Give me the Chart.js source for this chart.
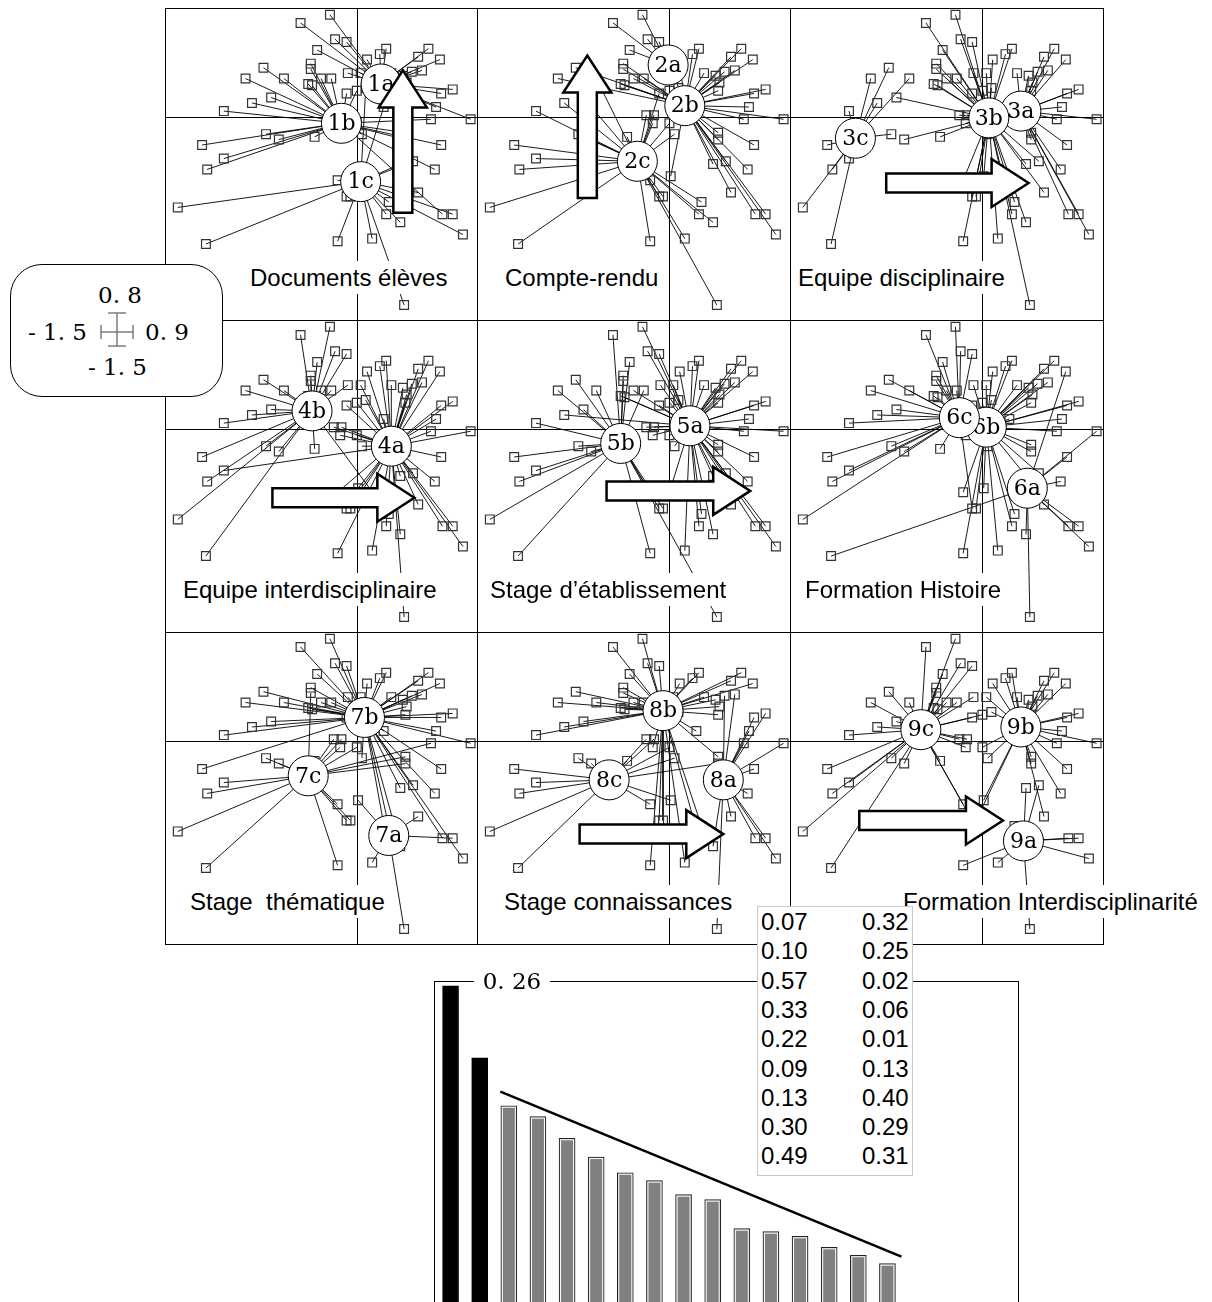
<!DOCTYPE html>
<html>
<head>
<meta charset="utf-8">
<script src="https://cdn.jsdelivr.net/npm/chart.js@4.4.1/dist/chart.umd.min.js"></script>
<style>
  html, body { margin: 0; padding: 0; background: #fff; }
  #page { position: relative; width: 1212px; height: 1302px; overflow: hidden; background: #fff; }
  #page canvas { position: absolute; }
  .hl { position: absolute; background: #000; height: 1px; z-index: 2; }
  .vl { position: absolute; background: #000; width: 1px; z-index: 2; }
  .title { position: absolute; z-index: 3; background: #fff; font: 24px 'Liberation Sans', Arial, sans-serif;
           line-height: 33px; padding: 0 2px; white-space: pre; color: #000; }
  .serif { position: absolute; font: 23px 'DejaVu Serif', serif; line-height: 23px; color: #000; white-space: pre; }
  #legendBox { position: absolute; left: 10px; top: 264px; width: 211px; height: 131px; border: 1px solid #000;
               border-radius: 32px; background: #fff; z-index: 4; }
  #barBox { position: absolute; left: 434px; top: 981px; width: 583px; height: 400px; border: 1px solid #000;
            border-bottom: none; z-index: 0; }
  #table { position: absolute; left: 757px; top: 906px; width: 154px; height: 268px; border: 1px solid #c8c8c8;
           background: #fff; z-index: 5; }
  .cell { position: absolute; font: 24px 'Liberation Sans', Arial, sans-serif; line-height: 28px; color: #000; }
</style>
</head>
<body>
<div id="page"></div>
<script>
// ---- individuals (same cloud in every panel) ----
const indivX = [-0.21, -0.44, -0.17, -0.08, -0.31, 0.23, 0.18, 0.56, 0.48, 0.65,
                0.08, -0.36, -0.36, -0.73, -0.07, 0.03, 0.27, 0.51, 0.43, 0.36,
                -0.87, -0.57, -0.20, -0.28, -0.38, -0.35, 0.07, 0.39, 0.38, 0.75,
                0.66, -0.08, 0.00, -0.67, -0.82, -1.04, 0.62, 0.58, 0.89, -0.18,
                -0.12, -0.13, 0.21, 0.00, -0.71, -0.61, -0.33, 0.04, 0.38, 0.38,
                -1.21, 0.66, -1.04, -1.17, 0.61, 0.34, 0.44, -0.15, 0.01, -0.08,
                -0.05, 0.48, 0.25, -1.40, 0.67, 0.75, 0.23, 0.34, 0.83, -1.18,
                -0.15, 0.12, 0.37];
const indivY = [0.75, 0.69, 0.57, 0.55, 0.49, 0.50, 0.46, 0.50, 0.44, 0.42,
                0.42, 0.39, 0.35, 0.36, 0.32, 0.32, 0.32, 0.34, 0.33, 0.30,
                0.28, 0.28, 0.28, 0.28, 0.24, 0.23, 0.21, 0.25, 0.19, 0.20,
                0.17, 0.17, 0.19, 0.14, 0.10, 0.04, 0.07, -0.02, -0.02, 0.01,
                0.01, -0.05, 0.07, -0.05, -0.13, -0.17, -0.15, -0.13, -0.12, -0.17,
                -0.21, -0.21, -0.31, -0.39, -0.39, -0.35, -0.33, -0.47, -0.44, -0.59,
                -0.59, -0.56, -0.63, -0.67, -0.72, -0.72, -0.72, -0.78, -0.87, -0.94,
                -0.92, -0.90, -1.39];

// ---- panels ----
const panelTitles = ['Documents élèves', 'Compte-rendu', 'Equipe disciplinaire',
                     'Equipe interdisciplinaire', 'Stage d\u2019établissement', 'Formation Histoire',
                     'Stage  thématique', 'Stage connaissances', 'Formation Interdisciplinarité'];
const titleLeft = [85, 28, 8, 18, 13, 15, 25, 27, 113];

// category (a/b/c) of each individual, per panel
const panelGroups = [
  'aaaaaaaaaa abbbaaaaaa bbbbbbcaaa abbbbbabab bbcbbbbbbb bbbbbccccc ccccbccccc ccc',
  'aaaaabbbbb bbbbabbbbb bcbbbbbbbb bcbcccbbbc ccbcccccbb cbccbbbcbc cbccbbccbc ccc',
  'bbbbbbbaaa bbbcbbaaaa ccbbbbbaaa abbbccaaab bbabcbbbaa caccabbbbb bbbcaabbac bbb',
  'bbbbbaaaaa abbbbaaaaa bbbbbbaaaa aaabbbaaaa aaaabbbaaa baabaaaaaa aabbaaaaab aaa',
  'abaabaaaaa abbbaaaaaa bbbaaaaaaa aaababaaaa aaaabbbaaa babbaaabab baabaaaaab bab',
  'cccccbbbba bcccbbbbbb ccccccbbbb bbbcccbbac ccbbcccbbb caccabbbbc babcaabaaa bba',
  'bbbbbbbbbb bbcbbbbbbb bbbbbbbbbb bbbbbbbcbc ccbccccbcc bbccbbbcac cabcbabbbc caa',
  'bbbbbbbbbb bbbbbbbaab bbbbbbbbba abbbbbaaac cbbcccccbc caccaaaccb babcaabaac bba',
  'cccccbbbbb bccccbbbbb ccccccbbbb bcccccbbbc ccbbcccbbb cbccbaacbc bbacaaaaac aaa'
];
const centX = [[0.19, -0.12, 0.03], [-0.01, 0.12, -0.25], [0.30, 0.05, -0.99],
               [0.27, -0.35], [0.16, -0.38], [0.35, 0.03, -0.18],
               [0.25, 0.06, -0.38], [0.42, -0.05, -0.47], [0.32, 0.30, -0.48]];
const centY = [[0.24, -0.05, -0.48], [0.38, 0.08, -0.33], [0.04, -0.01, -0.16],
               [-0.13, 0.13], [0.02, -0.11], [-0.44, 0.01, 0.08],
               [-0.70, 0.17, -0.26], [-0.29, 0.22, -0.29], [-0.74, 0.10, 0.08]];
// arrows: [tailX, tailY, tipX, tipY] or null
const panelArrows = [[0.36, -0.71, 0.36, 0.34], [-0.64, -0.60, -0.64, 0.45], [-0.75, -0.49, 0.36, -0.49],
                     [-0.66, -0.51, 0.45, -0.51], [-0.49, -0.46, 0.63, -0.46], null,
                     null, [-0.70, -0.69, 0.42, -0.69], [-0.96, -0.59, 0.16, -0.59]];

// ---- eigenvalue chart + table ----
const eigenValues = [0.257, 0.2135, 0.1844, 0.1778, 0.1647, 0.1533, 0.1438, 0.139,
                     0.1305, 0.1275, 0.1099, 0.1081, 0.1053, 0.0986, 0.0938, 0.0887];
const trendX = [1.71, 15.48];
const trendY = [0.193, 0.093];
const tableLeft = ['0.07', '0.10', '0.57', '0.33', '0.22', '0.09', '0.13', '0.30', '0.49'];
const tableRight = ['0.32', '0.25', '0.02', '0.06', '0.01', '0.13', '0.40', '0.29', '0.31'];

const page = document.getElementById('page');
const xs = [165, 477, 790, 1103];
const ys = [8, 320, 632, 944];

function addDiv(cls, style, text) {
  const d = document.createElement('div');
  d.className = cls;
  Object.assign(d.style, style);
  if (text !== undefined) d.textContent = text;
  page.appendChild(d);
  return d;
}

const crosshair = {
  id: 'crosshair',
  beforeDatasetsDraw(chart) {
    const { ctx, chartArea: a, scales } = chart;
    const x0 = Math.round(scales.x.getPixelForValue(0)) + 0.5;
    const y0 = Math.round(scales.y.getPixelForValue(0)) + 0.5;
    ctx.save();
    ctx.strokeStyle = '#000';
    ctx.lineWidth = 1;
    ctx.beginPath();
    ctx.moveTo(a.left, y0); ctx.lineTo(a.right, y0);
    ctx.moveTo(x0, a.top); ctx.lineTo(x0, a.bottom);
    ctx.stroke();
    ctx.restore();
  }
};

const circleLabels = {
  id: 'circleLabels',
  afterDatasetDraw(chart, args) {
    const ds = chart.data.datasets[args.index];
    if (!ds.circleLabel) return;
    const el = args.meta.data[0];
    const ctx = chart.ctx;
    ctx.save();
    ctx.fillStyle = '#000';
    ctx.font = "22px 'DejaVu Serif', serif";
    ctx.textAlign = 'center';
    ctx.textBaseline = 'middle';
    ctx.fillText(ds.label, el.x, el.y + 1);
    ctx.restore();
  }
};

const arrowPlugin = {
  id: 'arrow',
  afterDatasetsDraw(chart, args, opts) {
    const a = opts.coords;
    if (!a) return;
    const { ctx, scales } = chart;
    const tx = scales.x.getPixelForValue(a[0]), ty = scales.y.getPixelForValue(a[1]);
    const hx = scales.x.getPixelForValue(a[2]), hy = scales.y.getPixelForValue(a[3]);
    const len = Math.hypot(hx - tx, hy - ty);
    const ux = (hx - tx) / len, uy = (hy - ty) / len;
    const px = -uy, py = ux;
    const sw = 9.5, hw = 24, hl = 37;
    const bx = hx - ux * hl, by = hy - uy * hl;
    ctx.save();
    ctx.beginPath();
    ctx.moveTo(tx + px * sw, ty + py * sw);
    ctx.lineTo(bx + px * sw, by + py * sw);
    ctx.lineTo(bx + px * hw, by + py * hw);
    ctx.lineTo(hx, hy);
    ctx.lineTo(bx - px * hw, by - py * hw);
    ctx.lineTo(bx - px * sw, by - py * sw);
    ctx.lineTo(tx - px * sw, ty - py * sw);
    ctx.closePath();
    ctx.fillStyle = '#fff';
    ctx.fill();
    ctx.lineWidth = 2.5;
    ctx.lineJoin = 'miter';
    ctx.strokeStyle = '#000';
    ctx.stroke();
    ctx.restore();
  }
};

function buildPanel(i) {
  const col = i % 3, row = Math.floor(i / 3);
  const w = xs[col + 1] - xs[col], h = ys[row + 1] - ys[row];
  const cv = document.createElement('canvas');
  cv.width = w; cv.height = h;
  Object.assign(cv.style, { left: xs[col] + 'px', top: ys[row] + 'px', width: w + 'px', height: h + 'px', zIndex: 1 });
  page.appendChild(cv);

  const groups = panelGroups[i].replace(/ /g, '');
  const letters = ['a', 'b', 'c'].slice(0, centX[i].length);
  const datasets = [];
  letters.forEach((L, k) => {
    const star = [];
    for (let j = 0; j < indivX.length; j++) {
      if (groups[j] !== L) continue;
      star.push({ x: centX[i][k], y: centY[i][k] }, { x: indivX[j], y: indivY[j] }, { x: indivX[j], y: null });
    }
    datasets.push({ data: star, showLine: true, spanGaps: false, borderColor: '#000', borderWidth: 0.9,
                    pointRadius: 0, order: 10, clip: false });
  });
  datasets.push({ data: indivX.map((x, j) => ({ x, y: indivY[j] })), pointStyle: 'rect', pointRadius: 6.2,
                  borderColor: '#333', borderWidth: 1.2, backgroundColor: 'rgba(0,0,0,0)', order: 5, clip: false });
  letters.forEach((L, k) => datasets.push({
    label: (i + 1) + L, circleLabel: true,
    data: [{ x: centX[i][k], y: centY[i][k] }],
    pointRadius: 20, borderColor: '#000', borderWidth: 1, backgroundColor: '#fff', order: 3 - k, clip: false
  }));

  new Chart(cv, {
    type: 'scatter',
    data: { datasets },
    options: {
      responsive: false, animation: false, maintainAspectRatio: false,
      layout: { padding: 0, autoPadding: false },
      events: [],
      plugins: { legend: { display: false }, tooltip: { enabled: false }, arrow: { coords: panelArrows[i] } },
      scales: {
        x: { type: 'linear', min: -1.5, max: 0.94, display: false },
        y: { type: 'linear', min: -1.5, max: 0.8, display: false }
      }
    },
    plugins: [crosshair, circleLabels, arrowPlugin]
  });

  addDiv('title', { left: (xs[col] + titleLeft[i] - 2) + 'px', top: (ys[row] + 269 - 16.5) + 'px' }, panelTitles[i]);
}

for (let i = 0; i < 9; i++) buildPanel(i);

// panel frame lines
xs.forEach(x => addDiv('vl', { left: x + 'px', top: ys[0] + 'px', height: (ys[3] - ys[0] + 1) + 'px' }));
ys.forEach(y => addDiv('hl', { top: y + 'px', left: xs[0] + 'px', width: (xs[3] - xs[0] + 1) + 'px' }));

// scale legend box
const lb = addDiv('', {});
lb.id = 'legendBox';
[['0. 8', 98, 284], ['- 1. 5', 28, 321], ['0. 9', 145, 321], ['- 1. 5', 88, 356]].forEach(([t, l, tp]) => {
  addDiv('serif', { left: l + 'px', top: tp + 'px', zIndex: 5 }, t);
});
const cross = document.createElementNS('http://www.w3.org/2000/svg', 'svg');
cross.setAttribute('width', '40'); cross.setAttribute('height', '40');
Object.assign(cross.style, { position: 'absolute', left: '98px', top: '310px', zIndex: 5 });
cross.innerHTML = '<g stroke="#6a6a6a" stroke-width="1.3" fill="none">' +
  '<line x1="3" y1="22" x2="35" y2="22"/><line x1="3" y1="15" x2="3" y2="29"/><line x1="35" y1="15" x2="35" y2="29"/>' +
  '<line x1="19" y1="3" x2="19" y2="36"/><line x1="10" y1="3" x2="28" y2="3"/><line x1="10" y1="36" x2="28" y2="36"/></g>';
page.appendChild(cross);

// eigenvalue bar chart
const bb = addDiv('', {});
bb.id = 'barBox';
addDiv('serif', { left: '474px', top: '970px', width: '76px', textAlign: 'center', background: '#fff', zIndex: 3 }, '0. 26');

const bcv = document.createElement('canvas');
bcv.width = 468; bcv.height = 429;
Object.assign(bcv.style, { left: '434px', top: '981px', width: '468px', height: '429px', zIndex: 1 });
page.appendChild(bcv);

const innerLine = {
  id: 'innerLine',
  afterDatasetDraw(chart, args) {
    if (args.meta.type !== 'bar') return;
    const ctx = chart.ctx;
    ctx.save();
    ctx.strokeStyle = '#fff';
    ctx.lineWidth = 1;
    args.meta.data.forEach((el, i) => {
      if (i < 2) return;
      const p = el.getProps(['x', 'y', 'width', 'base'], true);
      ctx.strokeRect(p.x - p.width / 2 + 1.5, p.y + 1.5, p.width - 3, p.base - p.y);
    });
    ctx.restore();
  }
};

new Chart(bcv, {
  type: 'bar',
  data: {
    datasets: [
      {
        type: 'line',
        data: trendX.map((x, i) => ({ x, y: trendY[i] })),
        borderColor: '#000', borderWidth: 2.5, pointRadius: 0, clip: false, order: 0
      },
      {
        data: eigenValues.map((v, i) => ({ x: i, y: v })),
        backgroundColor: eigenValues.map((v, i) => i < 2 ? '#000' : '#808080'),
        borderColor: eigenValues.map((v, i) => i < 2 ? '#000' : '#222'),
        borderWidth: 1, borderSkipped: 'bottom',
        barThickness: 16, order: 1
      }
    ]
  },
  options: {
    responsive: false, animation: false, maintainAspectRatio: false,
    events: [],
    layout: { padding: { left: 2, right: 0, top: 0, bottom: 0 }, autoPadding: false },
    plugins: { legend: { display: false }, tooltip: { enabled: false } },
    scales: {
      x: { type: 'linear', display: false, offset: false, grid: { offset: false }, min: -0.5, max: 15.5 },
      y: { display: false, min: 0, max: 0.26 }
    }
  },
  plugins: [innerLine]
});

// value table
const tb = addDiv('', {});
tb.id = 'table';
tableLeft.forEach((t, i) => {
  const top = 922 + i * 29.3 - 14;
  addDiv('cell', { left: '761px', top: top + 'px', zIndex: 6 }, t);
  addDiv('cell', { left: '862px', top: top + 'px', zIndex: 6 }, tableRight[i]);
});
</script>
</body>
</html>
